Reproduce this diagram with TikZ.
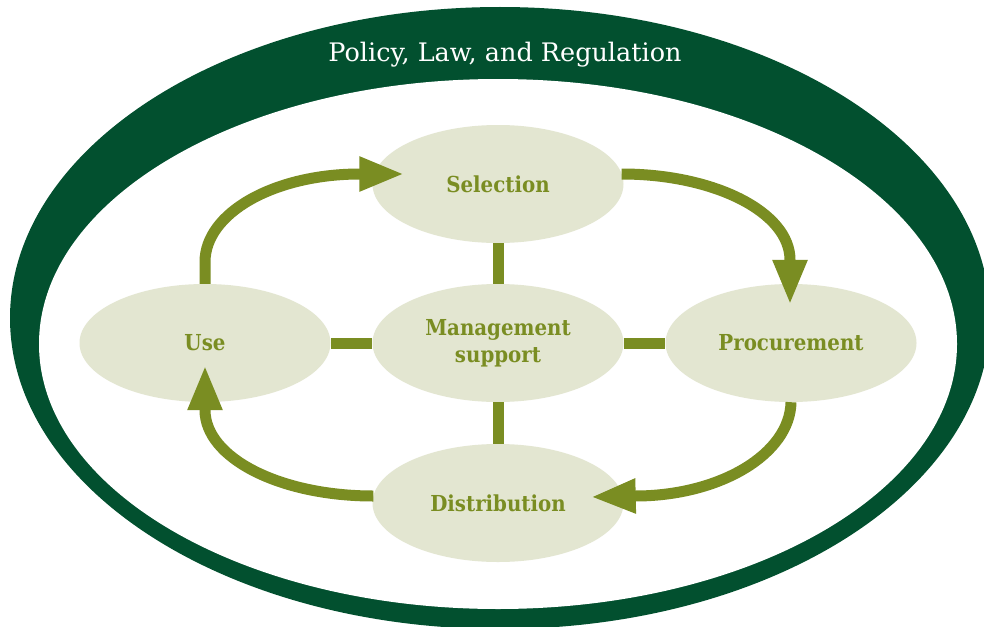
\documentclass[tikz,border=0pt]{standalone}
\usepackage{fontspec}
\setmainfont{DejaVu Serif}
\newfontfamily\labelfont{DejaVu Serif}[FakeStretch=0.9]
\newfontfamily\titlefont{DejaVu Serif}
\usetikzlibrary{arrows.meta,shapes.geometric,calc}
\definecolor{dkgreen}{HTML}{02502F}
\definecolor{myolive}{HTML}{7A8D22}
\definecolor{lightfill}{HTML}{E3E6D1}
\begin{document}
\begin{tikzpicture}[x=1pt,y=-1pt,
  stage/.style={ellipse, fill=lightfill, minimum width=251pt, minimum height=118pt,
    inner sep=0pt, text=myolive, align=center,
    font=\labelfont\bfseries\fontsize{22}{27}\selectfont},
  bar/.style={draw=myolive, line width=11pt},
  flow/.style={draw=myolive, line width=11pt, -{Triangle[length=45pt,width=32pt]}}]
\useasboundingbox (0,0) rectangle (984,626);
\clip (0,0) rectangle (984,626);
% outer ring
\fill[dkgreen] (500,318) ellipse [x radius=490, y radius=311];
\fill[white] (498,344) ellipse [x radius=459, y radius=265];
\node[text=white, font=\titlefont\fontsize{25.5}{30}\selectfont, anchor=base] (title) at (505,62) {Policy, Law, and Regulation};
% stages
\node[stage] (sel) at (498,184) {Selection};
\node[stage] (use) at (205,343) {Use};
\node[stage] (mgmt) at (498,343) {Management\\support};
\node[stage] (proc) at (791,343) {Procurement};
\node[stage] (dist) at (498,503) {Distribution};
% bars
\draw[bar] (mgmt.north) -- (sel.south);
\draw[bar] (mgmt.south) -- (dist.north);
\draw[bar] (mgmt.west) -- (use.east);
\draw[bar] (mgmt.east) -- (proc.west);
% cycle arrows
\draw[flow] (use.north) -- (205,262) .. controls (205,213) and (274,174) .. (360,174) -- ($(sel.west)+(32,-10)$);
\draw[flow] ($(sel.east)+(-2,-10)$) .. controls (714,174) and (790,212) .. (790,260) -- ($(proc.north)+(-1,21)$);
\draw[flow] (proc.south) .. controls (790,454) and (720,496) .. (635,496) -- ($(dist.east)+(-33,-6)$);
\draw[flow] ($(dist.west)+(1,-7)$) .. controls (280,496) and (205,458) .. (205,410) -- ($(use.south)+(0,-37)$);
\end{tikzpicture}
\end{document}
